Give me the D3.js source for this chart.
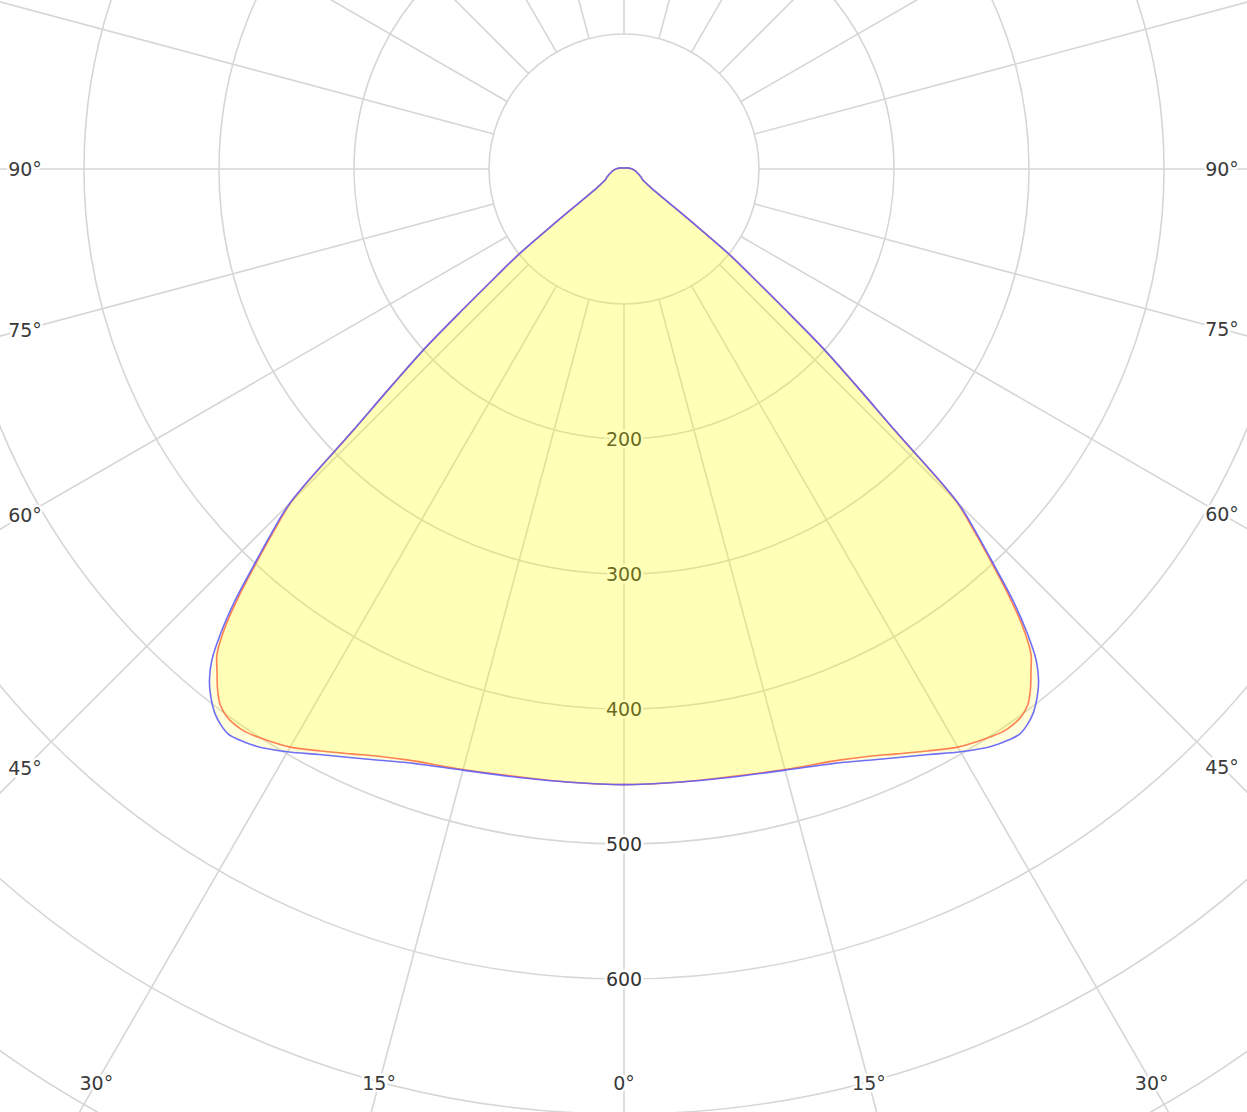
<!DOCTYPE html>
<html>
<head>
<meta charset="utf-8">
<script src="https://cdn.jsdelivr.net/npm/d3@7"></script>
<style>
  html, body { margin: 0; padding: 0; background: #fff; }
  svg { display: block; }
</style>
</head>
<body>
<svg id="chart" width="1247" height="1112"></svg>
<script>
// ---- data ----
const angles = [0,5,10,15,20,22.5,25,27.5,30,32.5,34,35,36,37,38,39,40,41,42,43,44,45,46,47,48,49,50,51,52,53,54,55,57.5,60,65,70,75,80,90,100,120,150,180];
const seriesC0C180 = [456,456,457.5,461,468,474,481,489,498.5,507,510,511,508.5,504,497,488,475,455,431,403,377,350,280,235,198,155,123,99,64,42,31,25,19,16,13.8,11.8,10,8.7,6,3.8,1.6,0.8,0.5];
const seriesC90C270 = [456,456,457,460.5,466,471,478,486,494.5,500,502.5,502.5,501,497,489,479,469,451,427,400,374,348,279,235,198,155,123,99,64,42,31,25,19,16,13.8,11.8,10,8.7,6,3.8,1.6,0.8,0.5];
const ringTicks = [100,200,300,400,500,600,700,800,900];
const ringLabels = [200,300,400,500,600];
const spokeAngles = d3.range(0, 360, 15);
const angleLabels = [0,15,30,45,60,75,90];

// ---- layout ----
const W = 1247, H = 1112;
const cx = 624, cy = 169;
const r = d3.scaleLinear().domain([0, 100]).range([0, 135]);
const svg = d3.select("#chart");
const g = svg.append("g").attr("transform", `translate(${cx},${cy})`);

const gridColor = "#d6d6d6";

// rings
g.append("g").selectAll("circle").data(ringTicks).join("circle")
  .attr("r", d => r(d)).attr("fill", "none")
  .attr("stroke", gridColor).attr("stroke-width", 1.6);

// spokes (angle measured from downward vertical)
g.append("g").selectAll("line").data(spokeAngles).join("line")
  .attr("x1", d => r(100) * Math.sin(d * Math.PI / 180))
  .attr("y1", d => r(100) * Math.cos(d * Math.PI / 180))
  .attr("x2", d => r(1200) * Math.sin(d * Math.PI / 180))
  .attr("y2", d => r(1200) * Math.cos(d * Math.PI / 180))
  .attr("stroke", gridColor).attr("stroke-width", 1.6);

const font = "'DejaVu Sans', Verdana, sans-serif";

// ring labels
g.append("g").selectAll("text").data(ringLabels).join("text")
  .attr("x", 0).attr("y", d => r(d))
  .attr("text-anchor", "middle").attr("dominant-baseline", "central")
  .attr("font-family", font).attr("font-size", 19).attr("fill", "#333")
  .attr("stroke", "#fff").attr("stroke-width", 5).attr("paint-order", "stroke")
  .text(d => d);

// angle labels, clamped to an inset rectangle
const xMin = 25, xMax = 1222, yMax = 1083;
function labelPos(a, side) {
  const t = a * Math.PI / 180;
  const dx = Math.sin(t), dy = Math.cos(t);
  let s = Infinity;
  if (dx > 1e-9) s = Math.min(s, (side < 0 ? (cx - xMin) : (xMax - cx)) / dx);
  if (dy > 1e-9) s = Math.min(s, (yMax - cy) / dy);
  return [side * dx * s, dy * s];
}
const angleLabelData = [];
angleLabels.forEach(a => {
  if (a === 0) angleLabelData.push({a, p: labelPos(0, 1)});
  else { angleLabelData.push({a, p: labelPos(a, -1)}); angleLabelData.push({a, p: labelPos(a, 1)}); }
});
g.append("g").selectAll("text").data(angleLabelData).join("text")
  .attr("x", d => d.p[0]).attr("y", d => d.p[1])
  .attr("text-anchor", "middle").attr("dominant-baseline", "central")
  .attr("font-family", font).attr("font-size", 19).attr("fill", "#3a3a3a")
  .attr("stroke", "#fff").attr("stroke-width", 5).attr("paint-order", "stroke")
  .text(d => d.a + "\u00B0");

// curves: full symmetric profile, left side then right side
function profile(vals) {
  const pts = [];
  for (let i = angles.length - 1; i >= 0; i--) pts.push({ang: Math.PI + angles[i] * Math.PI / 180, v: vals[i]});
  for (let i = 1; i < angles.length - 1; i++) pts.push({ang: Math.PI - angles[i] * Math.PI / 180, v: vals[i]});
  return pts;
}
const radial = d3.lineRadial().angle(d => d.ang).radius(d => r(d.v))
  .curve(d3.curveCatmullRomClosed.alpha(0.5));

const series = [
  {vals: seriesC90C270, color: "rgb(255,115,70)"},
  {vals: seriesC0C180, color: "rgb(95,95,250)"}
];
g.append("g").selectAll("path").data(series).join("path")
  .attr("d", d => radial(profile(d.vals)))
  .attr("fill", "rgba(255,255,0,0.15)").attr("stroke", "none");
g.append("g").selectAll("path").data(series).join("path")
  .attr("d", d => radial(profile(d.vals)))
  .attr("fill", "none").attr("stroke", d => d.color)
  .attr("stroke-width", 1.6).attr("stroke-opacity", 0.9).attr("stroke-linejoin", "round");
</script>
</body>
</html>
